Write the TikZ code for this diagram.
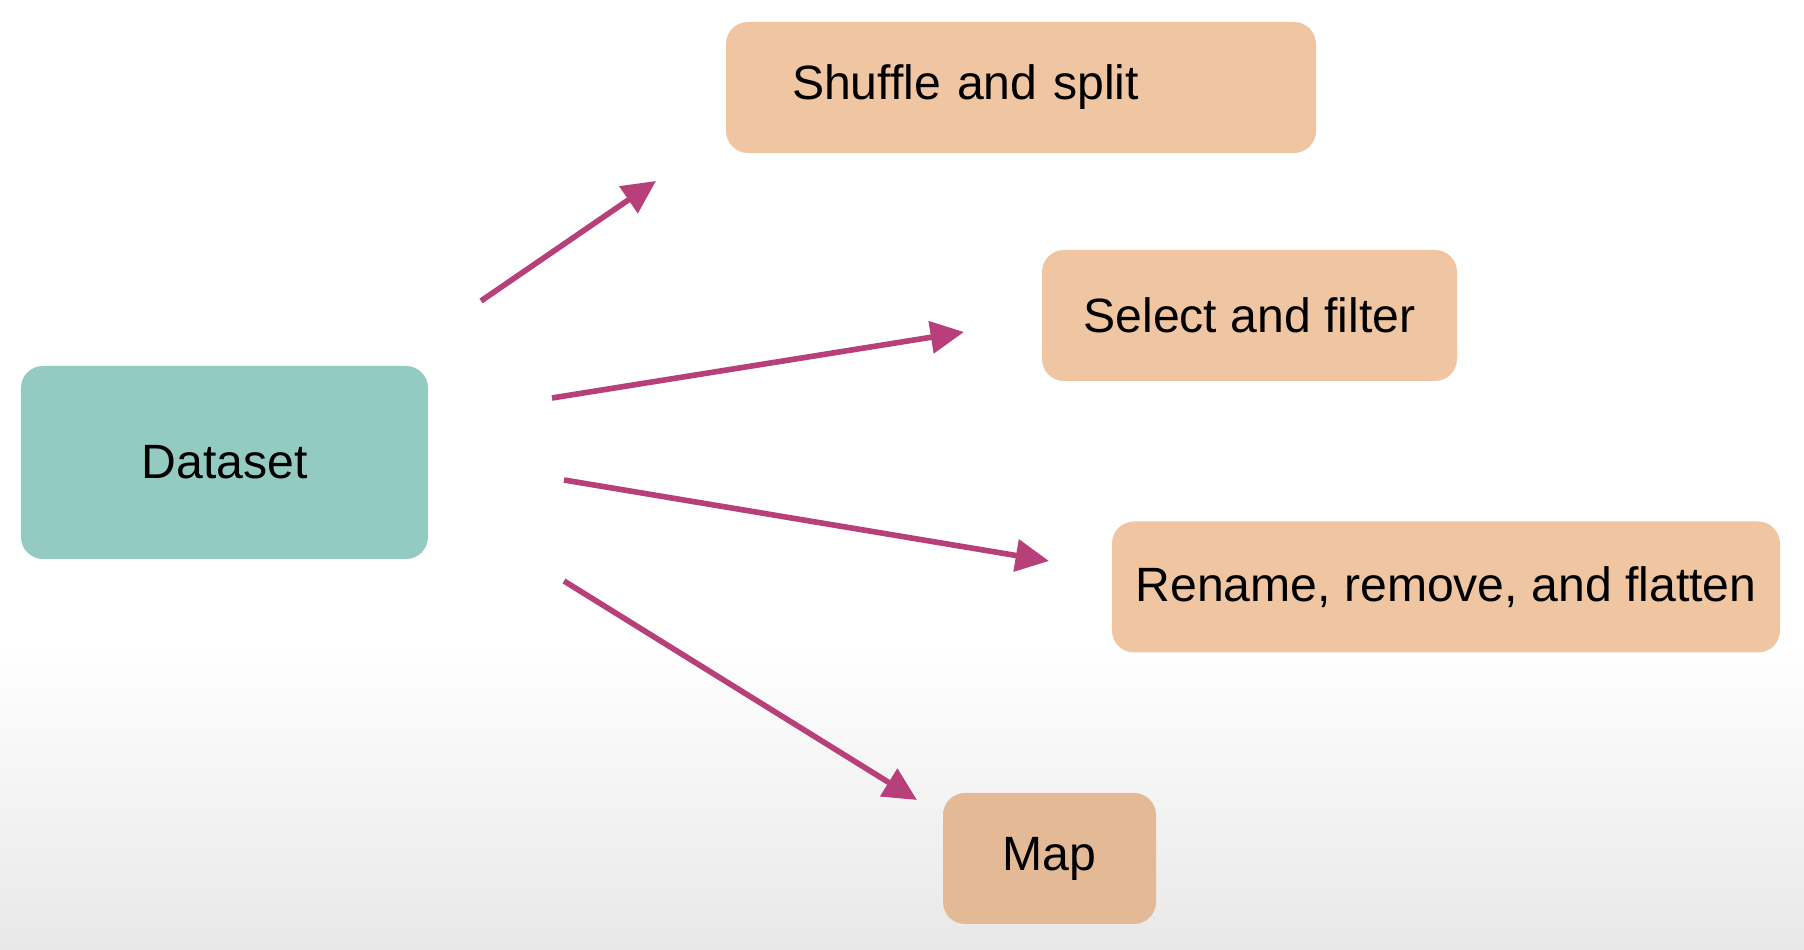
\documentclass[tikz,border=0pt]{standalone}
\usepackage{fontspec}
\setmainfont{Liberation Sans}
\usetikzlibrary{arrows.meta}
\definecolor{dsteal}{HTML}{93CBC3}
\definecolor{oppeach}{HTML}{EFC6A1}
\definecolor{mappeach}{HTML}{E4BA96}
\definecolor{arrowpink}{HTML}{B8407A}
\tikzset{
  dsbox/.style={rounded corners=0.22cm, fill=dsteal, font=\fontsize{13.7}{16}\selectfont},
  opbox/.style={rounded corners=0.22cm, fill=oppeach, minimum height=1.31cm, font=\fontsize{13.7}{16}\selectfont},
  oparrow/.style={draw=arrowpink, line width=1.6pt, -{Triangle[length=9.5pt,width=9pt]}}
}
\begin{document}
\begin{tikzpicture}
\useasboundingbox (0,0) rectangle (18.04,9.5);
\fill[white] (0,0) rectangle (18.04,9.5);
\shade[top color=white, bottom color=black!9] (0,0) rectangle (18.04,3.1);

\node[dsbox, minimum width=4.07cm, minimum height=1.93cm] (dataset) at (2.245,4.875){Dataset};
\node[opbox, text width=4.58cm, inner xsep=0.66cm, align=left] (shuffle) at (10.21,8.625){Shuffle and split};
\node[opbox, minimum width=4.15cm] (select) at (12.495,6.345){Select and filter};
\node[opbox, minimum width=6.68cm] (rename) at (14.46,3.63){Rename, remove, and flatten};
\node[opbox, fill=mappeach, minimum width=2.13cm] (map) at (10.495,0.915){Map};

\coordinate (s1) at (4.81,6.49);
\coordinate (e1) at (6.56,7.69);
\coordinate (s2) at (5.52,5.52);
\coordinate (e2) at (9.64,6.18);
\coordinate (s3) at (5.64,4.70);
\coordinate (e3) at (10.49,3.89);
\coordinate (s4) at (5.64,3.69);
\coordinate (e4) at (9.17,1.50);
\draw[oparrow] (s1) -- (e1);
\draw[oparrow] (s2) -- (e2);
\draw[oparrow] (s3) -- (e3);
\draw[oparrow] (s4) -- (e4);

\end{tikzpicture}
\end{document}
